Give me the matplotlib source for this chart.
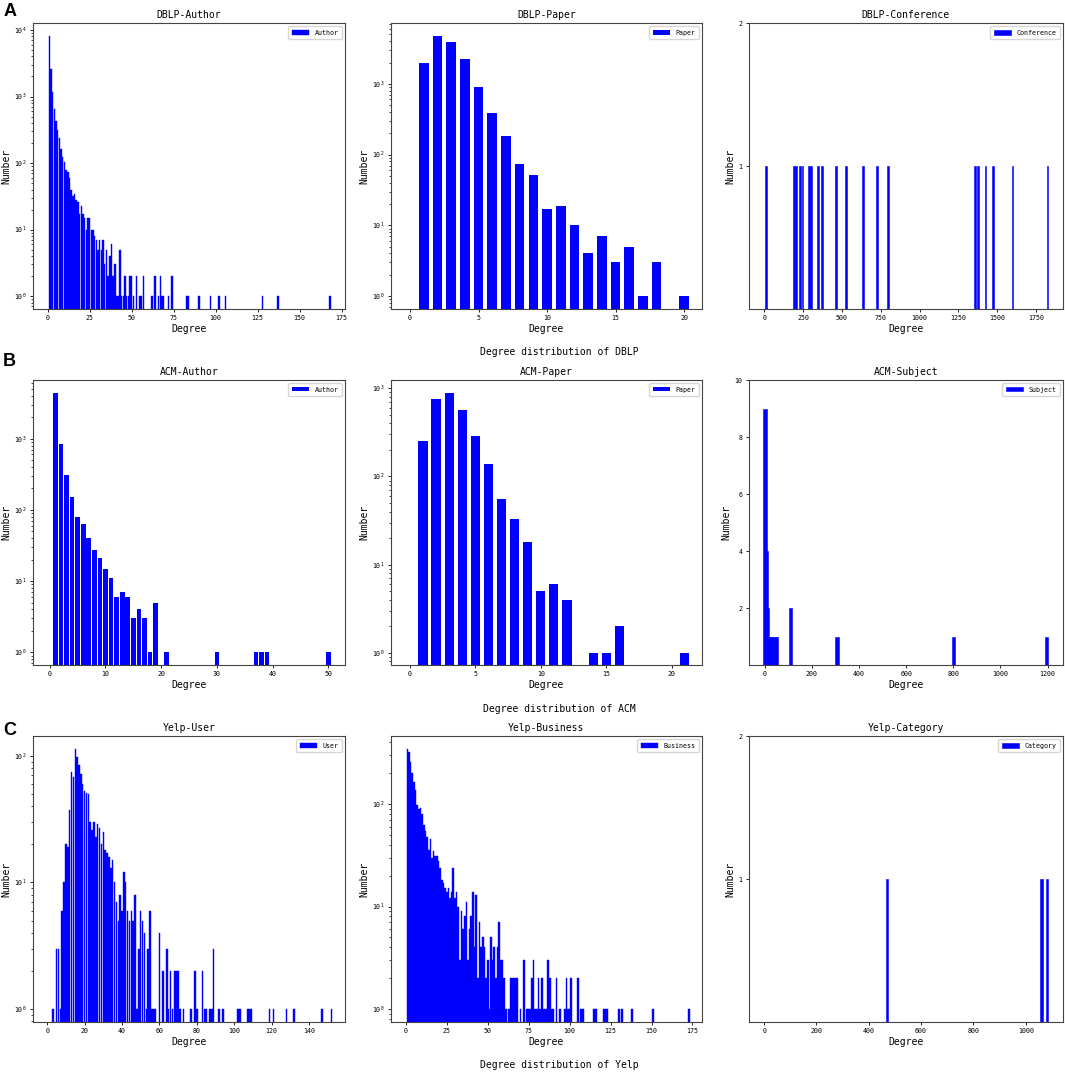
import matplotlib
matplotlib.use('Agg')
import matplotlib.pyplot as plt
from matplotlib.ticker import MultipleLocator, FixedLocator

plt.rcParams['font.family'] = ['DejaVu Sans Mono']
plt.rcParams['axes.unicode_minus'] = False

# ---- data ----
dblp_author_deg = list(range(1, 52)) + [53, 55, 56, 57, 62, 64, 66, 67, 68, 69, 72, 74,
                                        83, 84, 90, 97, 102, 106, 128, 137, 168]
dblp_author_cnt = [8100, 2550, 1180, 660, 430, 315, 235, 163, 124, 102,
                   80, 74, 60, 40, 32, 34, 28, 26, 17, 23,
                   17, 15, 10, 15, 15, 10, 10, 8, 7, 5,
                   7, 5, 7, 3, 5, 2, 4, 6, 2, 3,
                   1, 1, 5, 1, 1, 2, 1, 1, 2, 2,
                   1] + [2, 1, 1, 2, 1, 2, 1, 2, 1, 1, 1, 2, 1, 1, 1, 1, 1, 1, 1, 1, 1]

dblp_paper_deg = list(range(1, 19)) + [20]
dblp_paper_cnt = [1950, 4730, 3930, 2240, 915, 385, 180, 74, 52, 17,
                  19, 10, 4, 7, 3, 5, 1, 3, 1]

dblp_conf_deg = [9, 192, 205, 228, 246, 289, 300, 343, 373, 459, 526, 636, 726, 797,
                 1360, 1379, 1425, 1476, 1599, 1825]
dblp_conf_cnt = [1] * len(dblp_conf_deg)

acm_author_deg = list(range(1, 20)) + [21, 30, 37, 38, 39, 50]
acm_author_cnt = [4420, 841, 310, 150, 79, 63, 40, 27, 21, 15,
                  11, 6, 7, 6, 3, 4, 3, 1, 5, 1, 1, 1, 1, 1, 1]

acm_paper_deg = list(range(1, 13)) + [14, 15, 16, 21]
acm_paper_cnt = [251, 750, 878, 564, 289, 137, 56, 33, 18, 5, 6, 4, 1, 1, 2, 1]

acm_subject_deg = [1, 6, 13, 20, 30, 40, 50, 109, 307, 801, 1197]
acm_subject_cnt = [9, 4, 2, 1, 1, 1, 1, 2, 1, 1, 1]

yelp_user_deg = [3, 5, 6, 7, 8, 9, 10, 11, 12, 13, 14, 15, 16, 17, 18, 19, 20,
                 21, 22, 23, 24, 25, 26, 27, 28, 29, 30, 31, 32, 33, 34, 35, 36,
                 37, 38, 39, 40, 41, 42, 43, 44, 45, 46, 47, 48, 49, 50, 51, 52,
                 53, 54, 55, 56, 57, 58, 60, 62, 64, 65, 66, 67, 68, 69, 70, 71,
                 73, 77, 79, 80, 83, 84, 85, 87, 88, 89, 92, 94, 102, 103, 107,
                 108, 109, 119, 121, 128, 132, 147, 152]
yelp_user_cnt = [1, 3, 3, 1, 6, 10, 20, 19, 37, 75, 68, 113, 97, 84, 72, 60, 53,
                 51, 50, 30, 26, 30, 23, 29, 27, 20, 25, 18, 17, 16, 13, 15, 10,
                 7, 5, 8, 6, 12, 10, 6, 5, 6, 5, 8, 1, 3, 6, 5, 4,
                 1, 3, 6, 1, 1, 1, 4, 2, 3, 1, 2, 1, 2, 2, 2, 1,
                 1, 1, 2, 1, 2, 1, 1, 1, 1, 3, 1, 1, 1, 1, 1,
                 1, 1, 1, 1, 1, 1, 1, 1]

yelp_biz_deg = list(range(1, 62)) + [63, 64, 65, 66, 67, 68, 70, 72, 74, 75, 76, 77, 78,
                                     79, 80, 81, 82, 83, 84, 85, 86, 87, 88, 89, 90, 92,
                                     94, 97, 98, 99, 100, 101, 105, 107, 108, 115, 116,
                                     121, 122, 123, 130, 132, 138, 151, 173]
yelp_biz_cnt = [345, 325, 260, 200, 165, 137, 98, 90, 92, 80,
                62, 55, 48, 36, 46, 30, 35, 31, 31, 28,
                24, 18, 17, 15, 14, 15, 12, 14, 24, 12,
                14, 10, 3, 9, 6, 8, 11, 3, 6, 8,
                14, 4, 13, 2, 7, 4, 5, 4, 2, 3,
                1, 5, 3, 4, 2, 4, 7, 3, 3, 2,
                1] + [1, 2, 2, 2, 2, 2, 1, 3, 1, 1, 1, 2, 3,
                      1, 1, 2, 1, 2, 1, 1, 1, 3, 2, 1, 1, 2,
                      1, 1, 2, 1, 1, 2, 2, 1, 1, 1, 1,
                      1, 1, 1, 1, 1, 1, 1, 1]

yelp_cat_deg = [470, 1061, 1082]
yelp_cat_cnt = [1, 1, 1]

row_titles = ['Degree distribution of DBLP', 'Degree distribution of ACM',
              'Degree distribution of Yelp']
row_letters = ['A', 'B', 'C']


def draw_panel(ax, deg, cnt, title, label, width, log, xlim, ylim, xstep,
               yticks=None, edge=0.0):
    ax.bar(deg, cnt, width=width, color='blue', label=label,
           edgecolor='blue', linewidth=edge)
    if log:
        ax.set_yscale('log')
    ax.set_xlim(*xlim)
    ax.set_ylim(*ylim)
    ax.xaxis.set_major_locator(MultipleLocator(xstep))
    if yticks is not None:
        ax.yaxis.set_major_locator(FixedLocator(yticks))
    ax.set_title(title, fontsize=7, pad=4)
    ax.set_xlabel('Degree', fontsize=7, labelpad=2)
    ax.set_ylabel('Number', fontsize=7, labelpad=2)
    ax.tick_params(axis='both', which='major', labelsize=4.8, length=2.5, width=0.6, pad=2)
    ax.tick_params(axis='both', which='minor', length=1.5, width=0.5)
    for s in ax.spines.values():
        s.set_color('#444444')
        s.set_linewidth(0.8)
    ax.legend(loc='upper right', fontsize=4.8, handlelength=2.6, handleheight=0.6,
              edgecolor='#cccccc', borderpad=0.5)


fig = plt.figure(figsize=(10.65, 10.73), dpi=100)

lefts = [0.031, 0.367, 0.703]
widths = [0.293, 0.292, 0.295]
bottoms = [0.712, 0.3802, 0.0475]
heights = [0.2665, 0.2656, 0.2665]

axs = [[fig.add_axes([lefts[c], bottoms[r], widths[c], heights[r]]) for c in range(3)]
       for r in range(3)]

draw_panel(axs[0][0], dblp_author_deg, dblp_author_cnt, 'DBLP-Author', 'Author', 0.85,
           True, (-8.7, 177), (0.64, 12700), 25, edge=0.3)
draw_panel(axs[0][1], dblp_paper_deg, dblp_paper_cnt, 'DBLP-Paper', 'Paper', 0.7,
           True, (-1.4, 21.3), (0.655, 7220), 5)
draw_panel(axs[0][2], dblp_conf_deg, dblp_conf_cnt, 'DBLP-Conference', 'Conference', 12,
           False, (-101, 1924), (0, 2), 250, yticks=[1, 2], edge=0.4)

draw_panel(axs[1][0], acm_author_deg, acm_author_cnt, 'ACM-Author', 'Author', 0.85,
           True, (-3.0, 53.0), (0.664, 6650), 10)
draw_panel(axs[1][1], acm_paper_deg, acm_paper_cnt, 'ACM-Paper', 'Paper', 0.7,
           True, (-1.45, 22.3), (0.726, 1242), 5)
draw_panel(axs[1][2], acm_subject_deg, acm_subject_cnt, 'ACM-Subject', 'Subject', 14,
           False, (-68, 1265), (0, 10), 200, yticks=[2, 4, 6, 8, 10], edge=0.4)

draw_panel(axs[2][0], yelp_user_deg, yelp_user_cnt, 'Yelp-User', 'User', 0.8,
           True, (-7.6, 159.3), (0.79, 143), 20, edge=0.3)
draw_panel(axs[2][1], yelp_biz_deg, yelp_biz_cnt, 'Yelp-Business', 'Business', 1.0,
           True, (-9.1, 180.7), (0.746, 461), 25, edge=0.3)
draw_panel(axs[2][2], yelp_cat_deg, yelp_cat_cnt, 'Yelp-Category', 'Category', 10,
           False, (-59, 1142), (0, 2), 200, yticks=[1, 2], edge=0.4)

title_y = [0.672, 0.339, 0.0075]
letter_y = [0.989, 0.663, 0.319]
for i in range(3):
    fig.text(0.525, title_y[i], row_titles[i], ha='center', va='center', fontsize=7)
    fig.text(0.003, letter_y[i], row_letters[i], ha='left', va='center', fontsize=13,
             fontweight='bold', family='Liberation Sans')

fig.savefig('out.png', dpi=100)
